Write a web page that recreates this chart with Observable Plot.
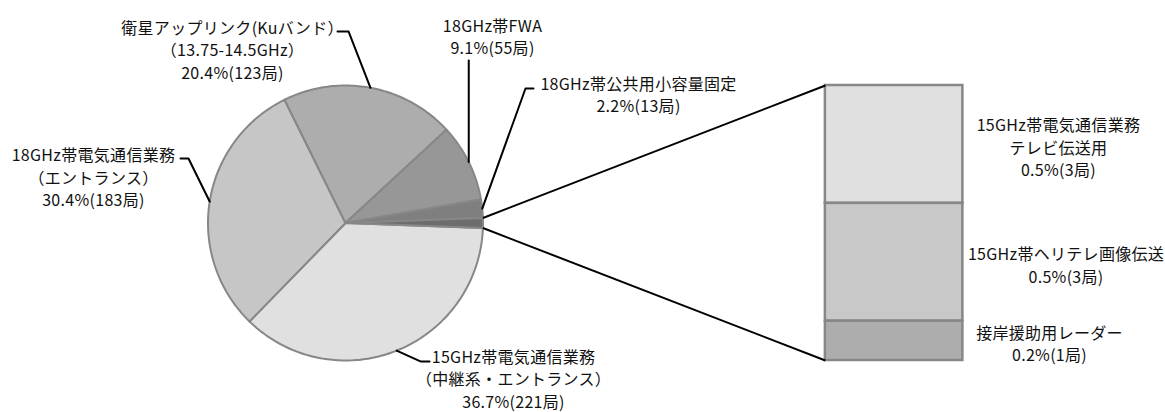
<!DOCTYPE html>
<html>
<head>
<meta charset="utf-8">
<script src="https://cdn.jsdelivr.net/npm/d3@7"></script>
<script src="https://cdn.jsdelivr.net/npm/@observablehq/plot@0.6"></script>
<style>
  html, body { margin: 0; padding: 0; background: #fff; }
  #chart svg { display: block; }
  #chart svg text { letter-spacing: 0.3px; }
</style>
</head>
<body>
<div id="chart"></div>
<script>
// ---- data ----
const pieNames = [
  "15GHz帯電気通信業務\n（中継系・エントランス）",
  "18GHz帯電気通信業務\n（エントランス）",
  "衛星アップリンク(Kuバンド）\n（13.75-14.5GHz）",
  "18GHz帯FWA",
  "18GHz帯公共用小容量固定"
];
const pieCounts = [221, 183, 123, 55, 13];
const piePercents = ["36.7%", "30.4%", "20.4%", "9.1%", "2.2%"];

const otherNames = [
  "15GHz帯電気通信業務\nテレビ伝送用",
  "15GHz帯ヘリテレ画像伝送",
  "接岸援助用レーダー"
];
const otherCounts = [3, 3, 1];
const otherPercents = ["0.5%", "0.5%", "0.2%"];

// ---- styles ----
const pieColors = ["#e0e0e0", "#c6c6c6", "#adadad", "#979797", "#7f7f7f", "#6d6d6d"];
const barColors = ["#e0e0e0", "#c8c8c8", "#adadad"];
const edgeColor = "#878787";
const FONT = "'Noto Sans CJK JP', 'Noto Sans', sans-serif";
const FONT_SIZE = 16;
const LINE_HEIGHT = 1.4;

// ---- layout (units of pie radius, origin at pie centre) ----
const R = 137.5, CX = 345, CY = 222.5, W = 1165, H = 412;
const barX1 = 3.49, barX2 = 4.49;
// per pie label: elbow of leader, end of leader, label centre
const pieLabelLayout = [
  {elbow: [0.545, -1.007], end: [0.611, -1.007], label: [1.222, -1.128]},
  {elbow: [-1.142, 0.469], end: [-1.2, 0.469], label: [-1.833, 0.338]},
  {elbow: [0.022, 1.393], end: [-0.058, 1.393], label: [-0.822, 1.265]},
  {elbow: [null, 1.182], end: null, label: [1.069, 1.36]},
  {elbow: [1.309, 0.978], end: [1.367, 0.978], label: [2.131, 0.938]}
];
const barLabelX = [5.185, 5.24, 5.12];

// ---- derived geometry from the data ----
const otherSum = d3.sum(otherCounts);
const total = d3.sum(pieCounts) + otherSum;
const sliceValues = [...pieCounts, otherSum];
const start = Math.PI / 2 + Math.PI * otherSum / total;
const arcs = d3.pie().sort(null).value(d => d).startAngle(start).endAngle(start + 2 * Math.PI)(sliceValues);

const slicePts = [];
arcs.forEach((a, i) => {
  const n = Math.max(2, Math.ceil((a.endAngle - a.startAngle) / (Math.PI / 180)));
  slicePts.push({id: i, x: 0, y: 0, color: pieColors[i]});
  for (let k = 0; k <= n; k++) {
    const t = a.startAngle + (a.endAngle - a.startAngle) * k / n;
    slicePts.push({id: i, x: Math.sin(t), y: Math.cos(t), color: pieColors[i]});
  }
  slicePts.push({id: i, x: 0, y: 0, color: pieColors[i]});
});

// leaders
const leaderPts = [];
const pieLabels = [];
pieCounts.forEach((c, i) => {
  const a = arcs[i];
  const m = (a.startAngle + a.endAngle) / 2;
  const ax = Math.sin(m), ay = Math.cos(m);
  const L = pieLabelLayout[i];
  leaderPts.push({id: i, x: ax, y: ay});
  leaderPts.push({id: i, x: L.elbow[0] ?? ax, y: L.elbow[1]});
  if (L.end) leaderPts.push({id: i, x: L.end[0], y: L.end[1]});
  pieLabels.push({x: L.label[0], y: L.label[1], text: `${pieNames[i]}\n${piePercents[i]}(${c}局)`});
});

// bar segments
const cum = d3.cumsum(otherCounts);
const barSegs = otherCounts.map((c, i) => {
  const before = i === 0 ? 0 : cum[i - 1];
  const yTop = 1 - 2 * before / otherSum;
  const yBot = 1 - 2 * cum[i] / otherSum;
  return {x1: barX1, x2: barX2, y1: yBot, y2: yTop, color: barColors[i],
          lx: barLabelX[i], ly: (yTop + yBot) / 2,
          text: `${otherNames[i]}\n${otherPercents[i]}(${c}局)`};
});

// connectors from "other" slice edges to bar corners
const oArc = arcs[arcs.length - 1];
const connectors = [
  {x1: Math.sin(oArc.startAngle), y1: Math.cos(oArc.startAngle), x2: barX1, y2: 1},
  {x1: Math.sin(oArc.endAngle), y1: Math.cos(oArc.endAngle), x2: barX1, y2: -1}
];

const textOpts = {textAnchor: "middle", lineAnchor: "middle", lineHeight: LINE_HEIGHT, fontSize: FONT_SIZE, fill: "#111", fontFamily: FONT};

const chart = Plot.plot({
  width: W,
  height: H,
  margin: 0,
  x: {domain: [-CX / R, (W - CX) / R], range: [0, W], axis: null},
  y: {domain: [-(H - CY) / R, CY / R], range: [H, 0], axis: null},
  color: {type: "identity"},
  style: {fontFamily: FONT, background: "#fff"},
  marks: [
    Plot.line(slicePts, {x: "x", y: "y", z: "id", fill: "color", stroke: edgeColor, strokeWidth: 2, strokeLinejoin: "round", curve: "linear"}),
    Plot.rect(barSegs, {x1: "x1", x2: "x2", y1: "y1", y2: "y2", fill: "color", stroke: edgeColor, strokeWidth: 2.5}),
    Plot.link(connectors, {x1: "x1", y1: "y1", x2: "x2", y2: "y2", stroke: "#000", strokeWidth: 2}),
    Plot.line(leaderPts, {x: "x", y: "y", z: "id", stroke: "#000", strokeWidth: 2, curve: "linear"}),
    Plot.text(pieLabels, {x: "x", y: "y", text: "text", ...textOpts}),
    Plot.text(barSegs, {x: "lx", y: "ly", dy: 2, text: "text", ...textOpts})
  ]
});
document.getElementById("chart").appendChild(chart);
</script>
</body>
</html>
